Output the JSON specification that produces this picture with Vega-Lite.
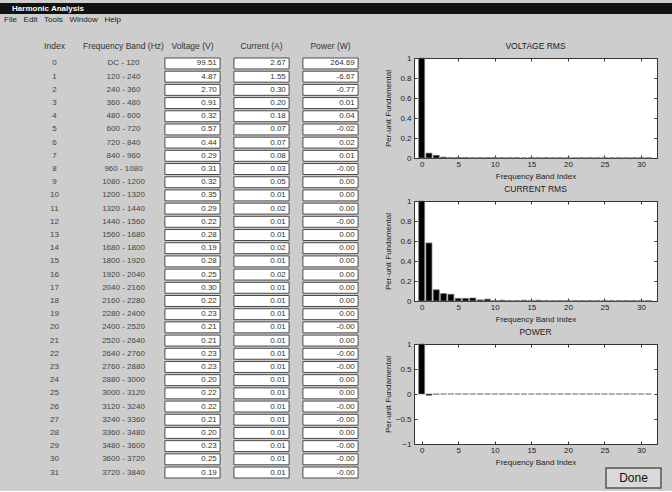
{
  "$schema": "https://vega.github.io/schema/vega-lite/v6.json",
  "background": "#cdcdcd",
  "padding": {"top": 3, "left": 0, "right": 0, "bottom": 2},
  "config": {
    "font": "Liberation Sans",
    "view": {"stroke": null},
    "axis": {"grid": false, "labelFont": "Liberation Sans", "titleFont": "Liberation Sans", "labelColor": "#222", "titleColor": "#222", "titleFontWeight": "normal", "tickColor": "#333"},
    "title": {"font": "Liberation Sans", "fontWeight": "normal", "color": "#222"}
  },
  "datasets": {
    "win": [{"label": "Harmonic Analysis"}],
    "menu": [{"label": "File\u00a0\u00a0\u00a0Edit\u00a0\u00a0\u00a0Tools\u00a0\u00a0\u00a0Window\u00a0\u00a0\u00a0Help"}],
    "btn": [{"label": "Done"}],
    "rows": [
      {"i":0,"band":"DC - 120","volt":"99.51","curr":"2.67","pow":"264.69","vpu":1,"ipu":1,"ppu":1},
      {"i":1,"band":"120 - 240","volt":"4.87","curr":"1.55","pow":"-6.67","vpu":0.0489,"ipu":0.5805,"ppu":-0.0252},
      {"i":2,"band":"240 - 360","volt":"2.70","curr":"0.30","pow":"-0.77","vpu":0.0271,"ipu":0.1124,"ppu":-0.0029},
      {"i":3,"band":"360 - 480","volt":"0.91","curr":"0.20","pow":"0.01","vpu":0.0091,"ipu":0.0749,"ppu":0},
      {"i":4,"band":"480 - 600","volt":"0.32","curr":"0.18","pow":"0.04","vpu":0.0032,"ipu":0.0674,"ppu":0.0002},
      {"i":5,"band":"600 - 720","volt":"0.57","curr":"0.07","pow":"-0.02","vpu":0.0057,"ipu":0.0262,"ppu":-0.0001},
      {"i":6,"band":"720 - 840","volt":"0.44","curr":"0.07","pow":"0.02","vpu":0.0044,"ipu":0.0262,"ppu":0.0001},
      {"i":7,"band":"840 - 960","volt":"0.29","curr":"0.08","pow":"0.01","vpu":0.0029,"ipu":0.03,"ppu":0},
      {"i":8,"band":"960 - 1080","volt":"0.31","curr":"0.03","pow":"-0.00","vpu":0.0031,"ipu":0.0112,"ppu":0},
      {"i":9,"band":"1080 - 1200","volt":"0.32","curr":"0.05","pow":"0.00","vpu":0.0032,"ipu":0.0187,"ppu":0},
      {"i":10,"band":"1200 - 1320","volt":"0.35","curr":"0.01","pow":"0.00","vpu":0.0035,"ipu":0.0037,"ppu":0},
      {"i":11,"band":"1320 - 1440","volt":"0.29","curr":"0.02","pow":"0.00","vpu":0.0029,"ipu":0.0075,"ppu":0},
      {"i":12,"band":"1440 - 1560","volt":"0.22","curr":"0.01","pow":"-0.00","vpu":0.0022,"ipu":0.0037,"ppu":0},
      {"i":13,"band":"1560 - 1680","volt":"0.28","curr":"0.01","pow":"0.00","vpu":0.0028,"ipu":0.0037,"ppu":0},
      {"i":14,"band":"1680 - 1800","volt":"0.19","curr":"0.02","pow":"0.00","vpu":0.0019,"ipu":0.0075,"ppu":0},
      {"i":15,"band":"1800 - 1920","volt":"0.28","curr":"0.01","pow":"0.00","vpu":0.0028,"ipu":0.0037,"ppu":0},
      {"i":16,"band":"1920 - 2040","volt":"0.25","curr":"0.02","pow":"0.00","vpu":0.0025,"ipu":0.0075,"ppu":0},
      {"i":17,"band":"2040 - 2160","volt":"0.30","curr":"0.01","pow":"0.00","vpu":0.003,"ipu":0.0037,"ppu":0},
      {"i":18,"band":"2160 - 2280","volt":"0.22","curr":"0.01","pow":"0.00","vpu":0.0022,"ipu":0.0037,"ppu":0},
      {"i":19,"band":"2280 - 2400","volt":"0.23","curr":"0.01","pow":"0.00","vpu":0.0023,"ipu":0.0037,"ppu":0},
      {"i":20,"band":"2400 - 2520","volt":"0.21","curr":"0.01","pow":"-0.00","vpu":0.0021,"ipu":0.0037,"ppu":0},
      {"i":21,"band":"2520 - 2640","volt":"0.21","curr":"0.01","pow":"0.00","vpu":0.0021,"ipu":0.0037,"ppu":0},
      {"i":22,"band":"2640 - 2760","volt":"0.23","curr":"0.01","pow":"-0.00","vpu":0.0023,"ipu":0.0037,"ppu":0},
      {"i":23,"band":"2760 - 2880","volt":"0.23","curr":"0.01","pow":"-0.00","vpu":0.0023,"ipu":0.0037,"ppu":0},
      {"i":24,"band":"2880 - 3000","volt":"0.20","curr":"0.01","pow":"0.00","vpu":0.002,"ipu":0.0037,"ppu":0},
      {"i":25,"band":"3000 - 3120","volt":"0.22","curr":"0.01","pow":"0.00","vpu":0.0022,"ipu":0.0037,"ppu":0},
      {"i":26,"band":"3120 - 3240","volt":"0.22","curr":"0.01","pow":"-0.00","vpu":0.0022,"ipu":0.0037,"ppu":0},
      {"i":27,"band":"3240 - 3360","volt":"0.21","curr":"0.01","pow":"-0.00","vpu":0.0021,"ipu":0.0037,"ppu":0},
      {"i":28,"band":"3360 - 3480","volt":"0.20","curr":"0.01","pow":"0.00","vpu":0.002,"ipu":0.0037,"ppu":0},
      {"i":29,"band":"3480 - 3600","volt":"0.23","curr":"0.01","pow":"-0.00","vpu":0.0023,"ipu":0.0037,"ppu":0},
      {"i":30,"band":"3600 - 3720","volt":"0.25","curr":"0.01","pow":"-0.00","vpu":0.0025,"ipu":0.0037,"ppu":0},
      {"i":31,"band":"3720 - 3840","volt":"0.19","curr":"0.01","pow":"-0.00","vpu":0.0019,"ipu":0.0037,"ppu":0}
    ]
  },
  "spacing": 15,
  "vconcat": [
    {
      "spacing": 0,
      "vconcat": [
        {
          "width": 672, "height": 11,
          "view": {"fill": "#111111", "stroke": null},
          "data": {"name": "win"},
          "mark": {"type": "text", "align": "left", "baseline": "middle", "color": "white", "fontSize": 8, "fontWeight": "bold"},
          "encoding": {
            "x": {"field": "label", "type": "nominal", "axis": null, "scale": {"type": "point", "padding": 0, "align": 0.018}},
            "text": {"field": "label"}
          }
        },
        {
          "width": 672, "height": 12,
          "data": {"name": "menu"},
          "mark": {"type": "text", "align": "left", "baseline": "middle", "color": "#222", "fontSize": 8},
          "encoding": {
            "x": {"field": "label", "type": "nominal", "axis": null, "scale": {"type": "point", "padding": 0, "align": 0.006}},
            "text": {"field": "label"}
          }
        }
      ]
    },
    {
      "spacing": -2,
      "hconcat": [
        {
          "width": 385, "height": 420,
          "data": {"name": "rows"},
          "transform": [{"fold": ["i", "band", "volt", "curr", "pow"], "as": ["col", "val"]}],
          "encoding": {
            "x": {"field": "col", "type": "nominal",
              "scale": {"domain": ["i", "band", "volt", "curr", "pow"], "paddingInner": 0.2, "paddingOuter": 0.39},
              "axis": {"orient": "top", "title": null, "domain": false, "ticks": false, "labelAngle": 0, "labelPadding": 8, "labelFontSize": 8.5, "labelColor": "#333",
                "labelExpr": "datum.value == 'i' ? 'Index' : datum.value == 'band' ? 'Frequency Band  (Hz)' : datum.value == 'volt' ? 'Voltage (V)' : datum.value == 'curr' ? 'Current (A)' : 'Power (W)'"}},
            "y": {"field": "i", "type": "ordinal", "scale": {"paddingInner": 0.17, "paddingOuter": 0}, "axis": null}
          },
          "layer": [
            {
              "transform": [{"filter": "datum.col != 'i' && datum.col != 'band'"}],
              "mark": {"type": "rect", "fill": "white", "stroke": "#4a4a4a", "strokeWidth": 1}
            },
            {
              "transform": [{"filter": "datum.col == 'i' || datum.col == 'band'"}],
              "mark": {"type": "text", "fontSize": 8, "color": "#444"},
              "encoding": {"text": {"field": "val"}}
            },
            {
              "transform": [{"filter": "datum.col != 'i' && datum.col != 'band'"}],
              "mark": {"type": "text", "align": "right", "fontSize": 8, "color": "#333"},
              "encoding": {
                "x": {"field": "col", "type": "nominal", "bandPosition": 0.94},
                "text": {"field": "val"}
              }
            }
          ]
        },
        {
          "spacing": 0,
          "vconcat": [
            {
              "bounds": "flush",
              "spacing": 43,
              "vconcat": [
                {
                  "width": 243, "height": 100,
                  "view": {"fill": "white", "stroke": "#333", "strokeWidth": 1},
                  "title": {"text": "VOLTAGE RMS", "fontSize": 8.5, "offset": 4},
                  "data": {"name": "rows"},
                  "layer": [
                    {
                      "mark": {"type": "bar", "size": 6, "fill": "black", "stroke": "#777", "strokeWidth": 0.7},
                      "encoding": {
                        "x": {"field": "i", "type": "quantitative", "scale": {"domain": [-0.36, 31.5], "nice": false, "zero": false},
                          "axis": {"values": [0, 5, 10, 15, 20, 25, 30], "title": "Frequency Band Index", "titleFontSize": 8, "labelFontSize": 8, "tickSize": -3, "domain": false, "labelPadding": 5, "titlePadding": 4, "labelFlush": false}},
                        "y": {"field": "vpu", "type": "quantitative", "scale": {"domain": [0, 1], "nice": false},
                          "axis": {"values": [0, 0.2, 0.4, 0.6, 0.8, 1], "format": "~g", "title": "Per-unit Fundamental", "titleFontSize": 8, "labelFontSize": 8, "tickSize": -3, "domain": false, "labelPadding": 6, "minExtent": 15, "maxExtent": 15, "titlePadding": 7, "labelFlush": false}}
                      }
                    },
                    {
                      "mark": {"type": "point", "opacity": 0},
                      "encoding": {
                        "x": {"field": "i", "type": "quantitative", "axis": {"orient": "top", "values": [0, 5, 10, 15, 20, 25, 30], "labels": false, "title": null, "tickSize": -3, "domain": false, "minExtent": 0, "maxExtent": 0}},
                        "y": {"field": "vpu", "type": "quantitative", "axis": {"orient": "right", "values": [0, 0.2, 0.4, 0.6, 0.8, 1], "labels": false, "title": null, "tickSize": -3, "domain": false, "minExtent": 0, "maxExtent": 0}}
                      }
                    }
                  ],
                  "resolve": {"axis": {"x": "independent", "y": "independent"}}
                },
                {
                  "width": 243, "height": 100,
                  "view": {"fill": "white", "stroke": "#333", "strokeWidth": 1},
                  "title": {"text": "CURRENT RMS", "fontSize": 8.5, "offset": 4},
                  "data": {"name": "rows"},
                  "layer": [
                    {
                      "mark": {"type": "bar", "size": 6, "fill": "black", "stroke": "#777", "strokeWidth": 0.7},
                      "encoding": {
                        "x": {"field": "i", "type": "quantitative", "scale": {"domain": [-0.36, 31.5], "nice": false, "zero": false},
                          "axis": {"values": [0, 5, 10, 15, 20, 25, 30], "title": "Frequency Band Index", "titleFontSize": 8, "labelFontSize": 8, "tickSize": -3, "domain": false, "labelPadding": 5, "titlePadding": 4, "labelFlush": false}},
                        "y": {"field": "ipu", "type": "quantitative", "scale": {"domain": [0, 1], "nice": false},
                          "axis": {"values": [0, 0.2, 0.4, 0.6, 0.8, 1], "format": "~g", "title": "Per-unit Fundamental", "titleFontSize": 8, "labelFontSize": 8, "tickSize": -3, "domain": false, "labelPadding": 6, "minExtent": 15, "maxExtent": 15, "titlePadding": 7, "labelFlush": false}}
                      }
                    },
                    {
                      "mark": {"type": "point", "opacity": 0},
                      "encoding": {
                        "x": {"field": "i", "type": "quantitative", "axis": {"orient": "top", "values": [0, 5, 10, 15, 20, 25, 30], "labels": false, "title": null, "tickSize": -3, "domain": false, "minExtent": 0, "maxExtent": 0}},
                        "y": {"field": "ipu", "type": "quantitative", "axis": {"orient": "right", "values": [0, 0.2, 0.4, 0.6, 0.8, 1], "labels": false, "title": null, "tickSize": -3, "domain": false, "minExtent": 0, "maxExtent": 0}}
                      }
                    }
                  ],
                  "resolve": {"axis": {"x": "independent", "y": "independent"}}
                },
                {
                  "width": 243, "height": 100,
                  "view": {"fill": "white", "stroke": "#333", "strokeWidth": 1},
                  "title": {"text": "POWER", "fontSize": 8.5, "offset": 4},
                  "data": {"name": "rows"},
                  "layer": [
                    {
                      "mark": {"type": "bar", "size": 6, "fill": "black", "stroke": "#777", "strokeWidth": 0.7},
                      "encoding": {
                        "x": {"field": "i", "type": "quantitative", "scale": {"domain": [-0.36, 31.5], "nice": false, "zero": false},
                          "axis": {"values": [0, 5, 10, 15, 20, 25, 30], "title": "Frequency Band Index", "titleFontSize": 8, "labelFontSize": 8, "tickSize": -3, "domain": false, "labelPadding": 5, "titlePadding": 4, "labelFlush": false}},
                        "y": {"field": "ppu", "type": "quantitative", "scale": {"domain": [-1, 1], "nice": false},
                          "axis": {"values": [-1, -0.5, 0, 0.5, 1], "format": "~g", "title": "Per-unit Fundamental", "titleFontSize": 8, "labelFontSize": 8, "tickSize": -3, "domain": false, "labelPadding": 6, "minExtent": 15, "maxExtent": 15, "titlePadding": 7, "labelFlush": false}}
                      }
                    },
                    {
                      "mark": {"type": "point", "opacity": 0},
                      "encoding": {
                        "x": {"field": "i", "type": "quantitative", "axis": {"orient": "top", "values": [0, 5, 10, 15, 20, 25, 30], "labels": false, "title": null, "tickSize": -3, "domain": false, "minExtent": 0, "maxExtent": 0}},
                        "y": {"field": "ppu", "type": "quantitative", "axis": {"orient": "right", "values": [-1, -0.5, 0, 0.5, 1], "labels": false, "title": null, "tickSize": -3, "domain": false, "minExtent": 0, "maxExtent": 0}}
                      }
                    }
                  ],
                  "resolve": {"axis": {"x": "independent", "y": "independent"}}
                }
              ]
            },
            {
              "spacing": 0,
              "hconcat": [
                {"width": 191, "height": 20, "data": {"values": []}, "mark": "point"},
                {
                  "width": 55, "height": 20,
                  "view": {"fill": "#d9d9d9", "stroke": "#555", "strokeWidth": 1.5},
                  "data": {"name": "btn"},
                  "mark": {"type": "text", "fontSize": 12, "color": "#111"},
                  "encoding": {"text": {"field": "label"}}
                }
              ]
            }
          ]
        }
      ]
    }
  ]
}
